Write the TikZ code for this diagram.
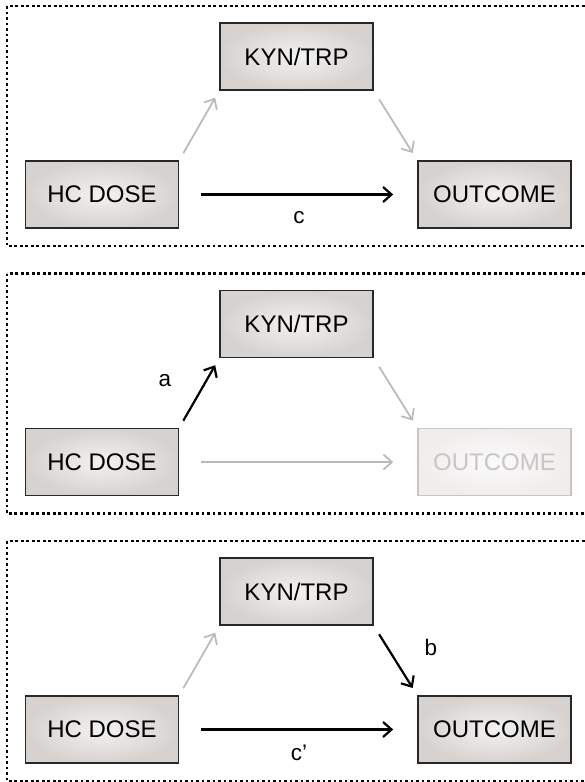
\documentclass[tikz,border=0pt]{standalone}
\usepackage{fontspec}
\setmainfont{Liberation Sans}
\usetikzlibrary{arrows.meta}
\definecolor{boxline}{RGB}{40,40,40}
\definecolor{boxin}{RGB}{243,242,241}
\definecolor{boxout}{RGB}{214,210,208}
\definecolor{greyarrow}{RGB}{188,184,181}
\definecolor{fadeline}{RGB}{200,196,193}
\definecolor{fadein}{RGB}{251,250,250}
\definecolor{fadeout}{RGB}{240,238,237}
\definecolor{fadetext}{RGB}{200,198,196}

\begin{document}
\begin{tikzpicture}[x=1pt,y=-1pt,
    >={Straight Barb[length=8.5pt,width=15pt]},
    var/.style={rectangle,draw=boxline,line width=1.6pt,inner color=boxin,outer color=boxout,
        minimum width=153pt,minimum height=67pt,inner sep=0pt,font=\fontsize{24}{28}\selectfont},
    faded/.style={draw=fadeline,inner color=fadein,outer color=fadeout,text=fadetext},
    panel/.style={draw=black,line width=2.4pt,dash pattern=on 2.6pt off 2.9pt},
    effect/.style={->,line width=2.2pt,black},
    weak/.style={->,line width=1.7pt,greyarrow},
    lbl/.style={font=\fontsize{22.5}{26}\selectfont}]
    \useasboundingbox (0,0) rectangle (584,782);
    % total effect
    \draw[panel] (7,6) rectangle (592,246);
    \node[var] (H1) at (102,194.5) {HC DOSE};
    \node[var] (K1) at (296.5,56.5) {KYN/TRP};
    \node[var] (O1) at (494.5,194.5) {OUTCOME};
    \draw[weak,shorten <=8pt,shorten >=8pt] (H1.north east) -- (K1.south west);
    \draw[weak,shorten <=10pt,shorten >=8.5pt] (K1.south east) -- (O1.north west);
    \draw[effect,shorten <=22pt,shorten >=24pt] (H1.east) -- (O1.west);
    \node[lbl] (c1) at (299,218) {c};
    % path a
    \begin{scope}[yshift=-267.5pt]
        \draw[panel] (7,6) rectangle (592,246);
        \node[var] (H2) at (102,194.5) {HC DOSE};
        \node[var] (K2) at (296.5,56.5) {KYN/TRP};
        \node[var,faded] (O2) at (494.5,194.5) {OUTCOME};
        \draw[effect,shorten <=8pt,shorten >=8pt] (H2.north east) -- (K2.south west);
        \draw[weak,shorten <=10pt,shorten >=8.5pt] (K2.south east) -- (O2.north west);
        \draw[weak,shorten <=22pt,shorten >=24pt] (H2.east) -- (O2.west);
        \node[lbl] (a2) at (165,113) {a};
    \end{scope}
    % path b and direct effect
    \begin{scope}[yshift=-535pt]
        \draw[panel] (7,6) rectangle (592,246);
        \node[var] (H3) at (102,194.5) {HC DOSE};
        \node[var] (K3) at (296.5,56.5) {KYN/TRP};
        \node[var] (O3) at (494.5,194.5) {OUTCOME};
        \draw[weak,shorten <=8pt,shorten >=8pt] (H3.north east) -- (K3.south west);
        \draw[effect,shorten <=10pt,shorten >=8.5pt] (K3.south east) -- (O3.north west);
        \draw[effect,shorten <=22pt,shorten >=24pt] (H3.east) -- (O3.west);
        \node[lbl] (b3) at (431,112) {b};
        \node[lbl] (c3) at (299,218) {c’};
    \end{scope}
\end{tikzpicture}
\end{document}
